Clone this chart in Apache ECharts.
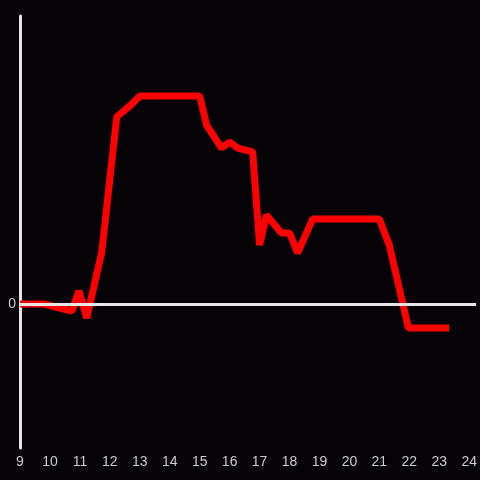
<!DOCTYPE html>
<html><head><meta charset="utf-8">
<script src="https://cdn.jsdelivr.net/npm/echarts@6/dist/echarts.min.js"></script>
<style>html,body{margin:0;padding:0;background:#050306;overflow:hidden;}#c{width:480px;height:480px;}</style>
</head><body><div id="c"></div>
<script>
const hours = [9.0, 9.8, 10.73, 10.97, 11.23, 11.73, 12.23, 12.7, 13.0, 13.5, 15.0, 15.23, 15.73, 16.0, 16.27, 16.77, 17.0, 17.23, 17.73, 18.0, 18.27, 18.77, 21.0, 21.33, 21.97, 23.33];
const values = [0, 0, -4.9, 9.0, -9.7, 36.1, 129.9, 138.2, 144.4, 144.4, 144.4, 124.3, 108.3, 112.5, 108.3, 105.6, 41.0, 61.8, 49.3, 49.3, 35.4, 59.0, 59.0, 41.0, -16.7, -16.7];
const yLabels = [0];

const chart = echarts.init(document.getElementById('c'));
chart.setOption({
  backgroundColor: '#050306',
  animation: false,
  grid: {left: 20, right: 0, top: 16, bottom: 32},
  xAxis: {
    type: 'value', min: 9, max: 24.23, interval: 1,
    axisLine: {show: false}, axisTick: {show: false}, splitLine: {show: false},
    axisLabel: {color: '#cccccc', fontSize: 14, margin: 7, fontFamily: 'Liberation Sans',
      formatter: v => Number.isInteger(v) ? String(v) : ''}
  },
  yAxis: {
    type: 'value', min: -100, max: 200, interval: 100,
    axisLine: {show: true, lineStyle: {color: '#e6e6e6', width: 3}},
    axisTick: {show: false}, splitLine: {show: false},
    axisLabel: {color: '#cccccc', fontSize: 14, margin: 4, fontFamily: 'Liberation Sans',
      formatter: v => yLabels.includes(v) ? String(v) : ''}
  },
  series: [
    {
      type: 'line', data: [], z: 1,
      markLine: {silent: true, symbol: 'none', label: {show: false},
        lineStyle: {color: '#e6e6e6', width: 3, type: 'solid'},
        data: [{yAxis: 0}]}
    },
    {
      type: 'line', z: 3, showSymbol: false,
      data: hours.map((h, i) => [h, values[i]]),
      lineStyle: {color: '#ff0000', width: 7, join: 'bevel'},
      itemStyle: {color: '#ff0000'}
    }
  ]
});
</script></body></html>
